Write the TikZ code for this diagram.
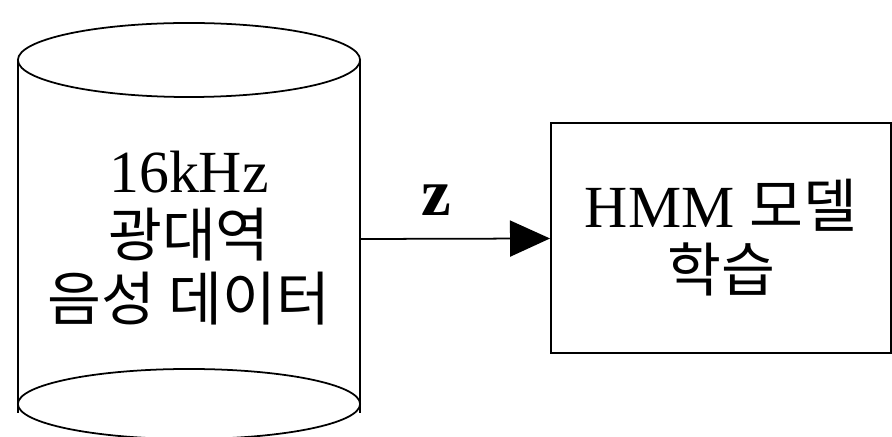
\documentclass[tikz,border=0pt]{standalone}
\usepackage{fontspec}
\setmainfont{Liberation Serif}
\newfontfamily\kr[Scale=0.98]{Noto Sans CJK KR}
\usetikzlibrary{arrows.meta,positioning}

\begin{document}
\begin{tikzpicture}[x=0.01cm,y=-0.01cm,line width=0.5pt,
    txt/.style={align=center,font=\fontsize{17pt}{18.2pt}\selectfont},
    flow/.style={-{Triangle[length=4mm,width=3.6mm]}}]
    \useasboundingbox (0,0) rectangle (892,437);
    
    \draw (18,60) -- (18,413);
    \draw (360,60) -- (360,413);
    \draw (189,60) ellipse [x radius=1.71cm, y radius=0.37cm];
    \draw (189,404) ellipse [x radius=1.71cm, y radius=0.35cm];
    \node[txt] (data) at (189,238) {16kHz\\{\kr 광대역}\\{\kr 음성 데이터}};
    \coordinate (cylr) at (360,239);
    
    \node[draw,txt,minimum width=3.4cm,minimum height=2.3cm] (train) at (721,238) {HMM {\kr 모델}\\{\kr 학습}};
    
    \draw[flow] (cylr) to node[pos=0.4,above=3pt,font=\fontsize{19pt}{20pt}\selectfont]{\textbf{z}} (train);
\end{tikzpicture}
\end{document}
